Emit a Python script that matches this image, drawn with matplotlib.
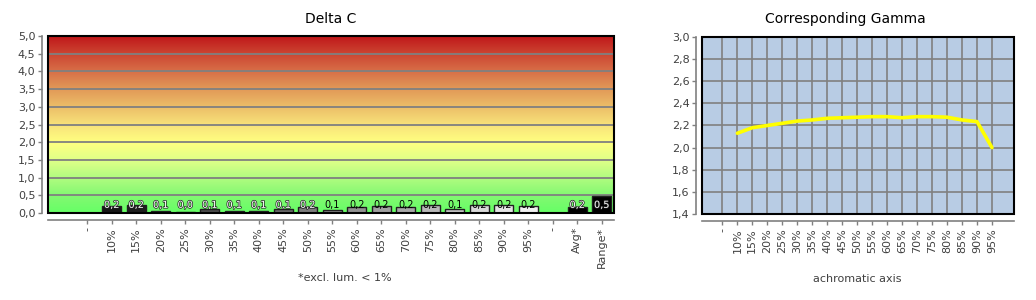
import matplotlib
matplotlib.use("Agg")
import matplotlib.pyplot as plt
import numpy as np
from matplotlib.colors import LinearSegmentedColormap
from matplotlib.patches import Rectangle
from matplotlib.ticker import FuncFormatter, MultipleLocator
import matplotlib.patheffects as pe

# ---------------- data ----------------
dc_categories = ["-", "10%", "15%", "20%", "25%", "30%", "35%", "40%", "45%", "50%",
                 "55%", "60%", "65%", "70%", "75%", "80%", "85%", "90%", "95%",
                 "-", "Avg*", "Range*"]
dc_values = [None, 0.21, 0.23, 0.06, 0.03, 0.12, 0.06, 0.06, 0.12, 0.17,
             0.09, 0.17, 0.21, 0.17, 0.23, 0.12, 0.23, 0.23, 0.21,
             None, 0.16, 0.48]
bar_colors = [None, "#161616", "#1e1e1e", "#2e2e2e", "#383838", "#4c4c4c", "#555555",
              "#5e5e5e", "#6a6a6a", "#7c7c7c", "#888888", "#929292", "#a0a0a0",
              "#a8a8a8", "#b8b8b8", "#c6c6c6", "#d8d8d8", "#e4e4e4", "#f0f0f0",
              None, "#000000", "#000000"]

gamma_categories = ["-", "10%", "15%", "20%", "25%", "30%", "35%", "40%", "45%", "50%",
                    "55%", "60%", "65%", "70%", "75%", "80%", "85%", "90%", "95%"]
gamma_values = [None, 2.13, 2.18, 2.20, 2.22, 2.24, 2.25, 2.265, 2.27, 2.275,
                2.28, 2.28, 2.27, 2.28, 2.28, 2.275, 2.25, 2.235, 2.00]

# ---------------- figure ----------------
W, H = 1036, 300
fig = plt.figure(figsize=(W / 100, H / 100), dpi=100)
plt.rcParams['font.family'] = ['DejaVu Sans']

TXT = "#404040"
GRID = "#808080"


def px_axes(x0, y0, x1, y1):
    return fig.add_axes([x0 / W, 1 - y1 / H, (x1 - x0) / W, (y1 - y0) / H])


def comma_fmt(v, pos):
    return f"{v:.1f}".replace(".", ",")


def style_axes(ax):
    for s in ["top", "right"]:
        ax.spines[s].set_visible(False)
    ax.spines["left"].set_position(("outward", 4))
    ax.spines["bottom"].set_position(("outward", 5))
    for s in ["left", "bottom"]:
        ax.spines[s].set_color(GRID)
        ax.spines[s].set_linewidth(1.2)
    ax.tick_params(axis="both", colors=GRID, length=3, width=1, labelcolor=TXT, labelsize=8)
    ax.tick_params(axis="x", rotation=90, pad=2)
    ax.tick_params(axis="y", pad=2)
    ax.add_patch(Rectangle((0, 0), 1, 1, transform=ax.transAxes, fill=False,
                           edgecolor="black", linewidth=1.5, zorder=10, clip_on=False))


# ---------------- Delta C ----------------
ax1 = px_axes(48, 36, 614, 213)
x1 = np.arange(len(dc_categories))
xlim1 = (-1.6, len(dc_categories) - 0.5)
ax1.set_xlim(*xlim1)
ax1.set_ylim(0, 5)

stops = [(0.0, "#66ff66"), (0.1, "#84f872"), (0.2, "#b2fc80"), (0.3, "#e0ff88"),
         (0.4, "#ffff80"), (0.5, "#f8e27a"), (0.6, "#ecbe68"), (0.7, "#e29a58"),
         (0.8, "#d87048"), (0.9, "#cc4632"), (1.0, "#c0181a")]
cmap = LinearSegmentedColormap.from_list("dc", stops)
grad = np.linspace(0, 1, 256).reshape(-1, 1)
ax1.imshow(grad, cmap=cmap, origin="lower", aspect="auto",
           extent=(xlim1[0], xlim1[1], 0, 5), zorder=0)

ax1.yaxis.set_major_locator(MultipleLocator(0.5))
ax1.yaxis.set_major_formatter(FuncFormatter(comma_fmt))
ax1.grid(axis="y", color=GRID, linewidth=1.3, zorder=1)
ax1.set_axisbelow(False)

for xi, v, c in zip(x1, dc_values, bar_colors):
    if v is None:
        continue
    ax1.bar(xi, v, width=0.78, color=c, edgecolor="#202020", linewidth=1, zorder=3)
    lum = int(c[1:3], 16)
    label = f"{v:.1f}".replace(".", ",")
    if lum < 0x84:
        ax1.text(xi, 0.23, label, ha="center", va="center", fontsize=7,
                 color="white", zorder=5,
                 path_effects=[pe.withStroke(linewidth=1.0, foreground="#202020")])
    else:
        ax1.text(xi, 0.23, label, ha="center", va="center", fontsize=7,
                 color="black", zorder=5)

ax1.set_xticks(x1)
ax1.set_xticklabels(dc_categories)
style_axes(ax1)
ax1.grid(axis="x", visible=False)

fig.text(331 / W, 1 - 19 / H, "Delta C", ha="center", va="center", fontsize=10, color="black")
fig.text(345 / W, 1 - 278 / H, "*excl. lum. < 1%", ha="center", va="center", fontsize=8, color=TXT)

# ---------------- Corresponding Gamma ----------------
ax2 = px_axes(702, 37, 1014, 214)
x2 = np.arange(len(gamma_categories))
ax2.set_xlim(-1.36, len(gamma_categories) - 1 + 1.47)
ax2.set_ylim(1.4, 3.0)
ax2.set_facecolor("#b8cce4")
ax2.yaxis.set_major_locator(MultipleLocator(0.2))
ax2.yaxis.set_major_formatter(FuncFormatter(comma_fmt))
ax2.set_xticks(x2)
ax2.set_xticklabels(gamma_categories)
ax2.grid(True, color=GRID, linewidth=1.2, zorder=1)
ax2.set_axisbelow(True)

gx = [xi for xi, v in zip(x2, gamma_values) if v is not None]
gy = [v for v in gamma_values if v is not None]
ax2.plot(gx, gy, color="#ffff00", linewidth=2.6, zorder=4, solid_capstyle="round")
style_axes(ax2)

fig.text(845 / W, 1 - 19 / H, "Corresponding Gamma", ha="center", va="center", fontsize=10, color="black")
fig.text(857 / W, 1 - 279 / H, "achromatic axis", ha="center", va="center", fontsize=8, color=TXT)

fig.savefig("out.png", dpi=100, facecolor="white")
